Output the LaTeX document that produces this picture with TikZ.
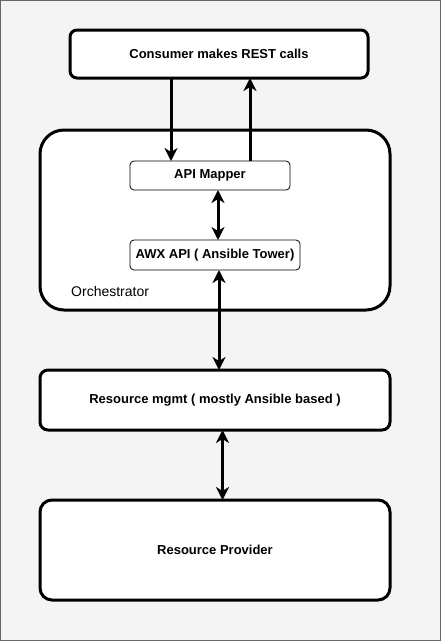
\documentclass[tikz,border=0pt]{standalone}
\usepackage{fontspec}
\setmainfont{Liberation Sans}
\usetikzlibrary{arrows.meta}
\definecolor{bg}{HTML}{F4F4F4}
\definecolor{frame}{HTML}{666666}
\begin{document}
\begin{tikzpicture}[x=1pt,y=-1pt,
  bigbox/.style={draw=black,line width=3pt,fill=white,rounded corners=#1},
  smallbox/.style={draw=black,line width=0.8pt,fill=white,rounded corners=4pt},
  lbl/.style={font=\fontsize{13}{15}\selectfont\bfseries},
  tip/.style={Stealth[length=13pt,width=13pt,inset=4pt]},
  conn/.style={line width=3pt,-{Stealth[length=13pt,width=13pt,inset=4pt]}},
  bconn/.style={line width=3pt,{Stealth[length=13pt,width=13pt,inset=4pt]}-{Stealth[length=13pt,width=13pt,inset=4pt]}}]
\useasboundingbox (0,0) rectangle (441,641);
\fill[bg] (0,0) rectangle (441,641);
\draw[frame,line width=1.2pt] (0.6,0.6) rectangle (440.4,640.4);
% boxes
\node[bigbox=7pt,minimum width=298pt,minimum height=48pt,lbl] (cons) at (219,54) {Consumer makes REST calls};
\node[bigbox=24pt,minimum width=350pt,minimum height=180pt] (orch) at (215,220) {};
\node[smallbox,minimum width=160pt,minimum height=29pt,lbl] (map) at (210,175.5) {API Mapper};
\node[smallbox,minimum width=170pt,minimum height=30pt,lbl] (awx) at (215,255) {AWX API ( Ansible Tower)};
\node[anchor=west,inner sep=0pt,font=\fontsize{14}{16}\selectfont] (olbl) at (71,291) {Orchestrator};
\node[bigbox=8pt,minimum width=350pt,minimum height=60pt,lbl] (rm) at (215,400) {Resource mgmt ( mostly Ansible based )};
\node[bigbox=12pt,minimum width=350pt,minimum height=100pt,lbl] (rp) at (215,550) {Resource Provider};
% connectors
\coordinate (c1) at (171,78);
\coordinate (m1) at (171,161);
\coordinate (c2) at (250,78);
\coordinate (m2) at (250,161);
\draw[conn] (c1) -- (m1);
\draw[conn] (m2) -- (c2);
\draw[bconn] (218,190) -- (218,240);
\draw[bconn] (219,270) -- (219,370);
\draw[line width=2.2pt,{Stealth[length=13pt,width=13pt,inset=4pt]}-{Stealth[length=13pt,width=13pt,inset=4pt]}] (222.5,430) -- (222.5,500);
\end{tikzpicture}
\end{document}
